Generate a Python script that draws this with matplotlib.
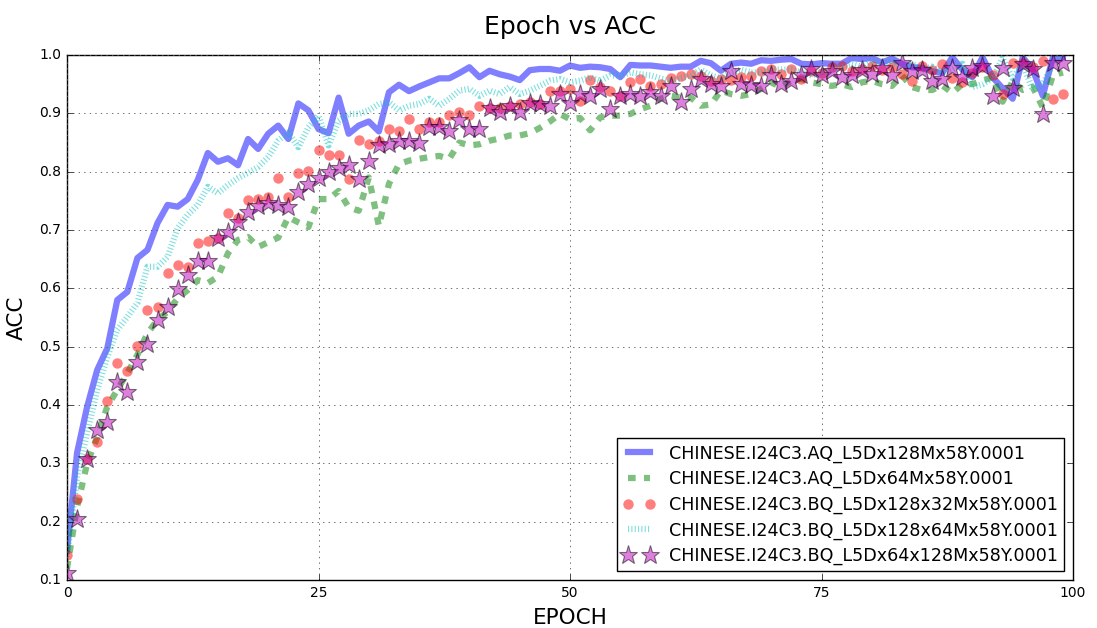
import numpy as np
import matplotlib
matplotlib.use("Agg")
import matplotlib.pyplot as plt

plt.style.use("classic")

epochs = list(range(100))

labels = [
    "CHINESE.I24C3.AQ_L5Dx128Mx58Y.0001",
    "CHINESE.I24C3.AQ_L5Dx64Mx58Y.0001",
    "CHINESE.I24C3.BQ_L5Dx128x32Mx58Y.0001",
    "CHINESE.I24C3.BQ_L5Dx128x64Mx58Y.0001",
    "CHINESE.I24C3.BQ_L5Dx64x128Mx58Y.0001",
]

acc_aq128 = [
    0.150, 0.318, 0.397, 0.460, 0.497, 0.580, 0.594, 0.652, 0.666, 0.712,
    0.743, 0.740, 0.753, 0.786, 0.832, 0.817, 0.823, 0.811, 0.856, 0.839,
    0.865, 0.879, 0.856, 0.917, 0.905, 0.873, 0.866, 0.927, 0.865, 0.879,
    0.886, 0.869, 0.936, 0.949, 0.938, 0.946, 0.953, 0.960, 0.960, 0.969,
    0.979, 0.962, 0.973, 0.967, 0.963, 0.957, 0.974, 0.976, 0.976, 0.973,
    0.982, 0.978, 0.980, 0.979, 0.976, 0.962, 0.983, 0.982, 0.982, 0.980,
    0.978, 0.980, 0.980, 0.990, 0.986, 0.973, 0.985, 0.987, 0.985, 0.991,
    0.990, 0.992, 0.993, 0.985, 0.984, 0.986, 0.985, 0.985, 0.995, 0.993,
    0.995, 0.987, 0.994, 0.985, 0.979, 0.978, 0.972, 0.969, 0.996, 0.975,
    0.962, 0.996, 0.962, 0.943, 0.925, 0.996, 0.975, 0.930, 0.996, 0.996,
]

acc_aq64 = [
    0.120, 0.225, 0.300, 0.345, 0.397, 0.426, 0.455, 0.486, 0.523, 0.546,
    0.560, 0.583, 0.597, 0.614, 0.609, 0.620, 0.660, 0.683, 0.688, 0.671,
    0.679, 0.687, 0.722, 0.713, 0.705, 0.753, 0.753, 0.767, 0.739, 0.733,
    0.790, 0.707, 0.779, 0.813, 0.819, 0.822, 0.825, 0.827, 0.822, 0.850,
    0.845, 0.847, 0.853, 0.857, 0.862, 0.862, 0.866, 0.875, 0.886, 0.899,
    0.890, 0.892, 0.871, 0.893, 0.896, 0.896, 0.899, 0.907, 0.913, 0.925,
    0.930, 0.927, 0.927, 0.913, 0.915, 0.939, 0.933, 0.930, 0.933, 0.942,
    0.953, 0.945, 0.956, 0.959, 0.953, 0.950, 0.947, 0.950, 0.945, 0.953,
    0.956, 0.950, 0.947, 0.965, 0.945, 0.940, 0.940, 0.948, 0.935, 0.950,
    0.950, 0.956, 0.962, 0.920, 0.955, 0.940, 0.945, 0.910, 0.965, 0.970,
]

acc_bq128x32 = [
    0.143, 0.239, 0.307, 0.337, 0.407, 0.472, 0.458, 0.501, 0.563, 0.568,
    0.626, 0.640, 0.636, 0.678, 0.681, 0.686, 0.729, 0.720, 0.751, 0.753,
    0.756, 0.789, 0.756, 0.797, 0.802, 0.837, 0.829, 0.829, 0.787, 0.854,
    0.847, 0.853, 0.873, 0.870, 0.890, 0.873, 0.886, 0.886, 0.897, 0.902,
    0.897, 0.913, 0.910, 0.910, 0.913, 0.916, 0.919, 0.916, 0.939, 0.939,
    0.942, 0.922, 0.957, 0.945, 0.939, 0.930, 0.953, 0.959, 0.947, 0.950,
    0.960, 0.964, 0.967, 0.964, 0.956, 0.959, 0.957, 0.962, 0.964, 0.973,
    0.976, 0.967, 0.976, 0.959, 0.973, 0.970, 0.979, 0.982, 0.973, 0.976,
    0.982, 0.975, 0.979, 0.967, 0.955, 0.982, 0.975, 0.985, 0.960, 0.953,
    0.970, 0.979, 0.965, 0.933, 0.987, 0.987, 0.980, 0.990, 0.925, 0.933,
]

acc_bq128x64 = [
    0.140, 0.277, 0.352, 0.426, 0.482, 0.529, 0.551, 0.575, 0.637, 0.637,
    0.654, 0.703, 0.726, 0.743, 0.774, 0.763, 0.777, 0.789, 0.798, 0.808,
    0.825, 0.853, 0.867, 0.842, 0.876, 0.896, 0.845, 0.887, 0.899, 0.899,
    0.905, 0.916, 0.919, 0.905, 0.913, 0.916, 0.925, 0.913, 0.925, 0.939,
    0.942, 0.930, 0.939, 0.933, 0.945, 0.933, 0.939, 0.947, 0.956, 0.959,
    0.953, 0.956, 0.962, 0.956, 0.965, 0.965, 0.970, 0.967, 0.965, 0.960,
    0.955, 0.960, 0.965, 0.975, 0.965, 0.960, 0.970, 0.975, 0.970, 0.970,
    0.975, 0.975, 0.975, 0.970, 0.965, 0.970, 0.975, 0.980, 0.985, 0.980,
    0.990, 0.985, 0.990, 0.980, 0.985, 0.975, 0.980, 0.970, 0.975, 0.985,
    0.945, 0.950, 0.960, 0.995, 0.960, 0.985, 0.940, 0.950, 0.985, 0.995,
]

acc_bq64x128 = [
    0.112, 0.205, 0.307, 0.357, 0.371, 0.440, 0.422, 0.474, 0.505, 0.546,
    0.568, 0.599, 0.623, 0.647, 0.647, 0.686, 0.697, 0.714, 0.731, 0.742,
    0.747, 0.743, 0.740, 0.765, 0.779, 0.790, 0.799, 0.807, 0.812, 0.787,
    0.819, 0.845, 0.847, 0.852, 0.853, 0.850, 0.877, 0.876, 0.870, 0.889,
    0.873, 0.873, 0.910, 0.902, 0.913, 0.902, 0.917, 0.916, 0.913, 0.934,
    0.917, 0.933, 0.929, 0.942, 0.907, 0.929, 0.934, 0.929, 0.936, 0.930,
    0.947, 0.920, 0.942, 0.959, 0.950, 0.947, 0.973, 0.950, 0.949, 0.947,
    0.965, 0.950, 0.956, 0.965, 0.976, 0.965, 0.973, 0.962, 0.965, 0.974,
    0.967, 0.978, 0.965, 0.987, 0.973, 0.974, 0.956, 0.959, 0.978, 0.962,
    0.978, 0.982, 0.929, 0.977, 0.943, 0.985, 0.976, 0.899, 0.987, 0.987,
]

xticks = [0, 25, 50, 75, 100]
yticks = [0.1, 0.2, 0.3, 0.4, 0.5, 0.6, 0.7, 0.8, 0.9, 1.0]

fig = plt.figure(figsize=(10.97, 6.28), dpi=100, facecolor="white")
ax = fig.add_axes([67 / 1097, 1 - 580 / 628, (1073 - 67) / 1097, (580 - 55) / 628])

ax.plot(epochs, acc_aq128, color="b", lw=4.5, alpha=0.5, label=labels[0])
ax.plot(epochs, acc_aq64, color="g", lw=4.5, alpha=0.5, ls=(0, (5.5, 6)),
        label=labels[1])
ax.plot(epochs, acc_bq128x32, color="r", lw=0, marker="o", ms=7.5,
        mew=0, alpha=0.5, label=labels[2])
ax.plot(epochs, acc_bq128x64, color="c", lw=4.5, alpha=0.5, ls=(0, (0.8, 1.6)),
        label=labels[3])
ax.plot(epochs, acc_bq64x128, color="m", lw=0, marker="*", ms=14,
        mec="k", mew=0.8, alpha=0.5, label=labels[4])

ax.set_xlim(0, 100)
ax.set_ylim(0.1, 1.0)
ax.set_xticks(xticks)
ax.set_yticks(yticks)
ax.set_yticklabels([f"{v:.1f}" for v in yticks])
ax.tick_params(labelsize=10)
ax.grid(True, color="0.35", ls=":", lw=0.6)

ax.set_title("Epoch vs ACC", fontsize=18, pad=15)
ax.set_xlabel("EPOCH", fontsize=15.5, labelpad=6)
ax.set_ylabel("ACC", fontsize=15.5, labelpad=9)

leg = ax.legend(loc="lower right", fontsize=12.6, numpoints=2, fancybox=False,
                borderaxespad=0.5, handlelength=1.85, handletextpad=0.8,
                labelspacing=0.42, borderpad=0.35)
leg.get_frame().set_edgecolor("k")

fig.savefig("out.png", dpi=100, facecolor="white")
